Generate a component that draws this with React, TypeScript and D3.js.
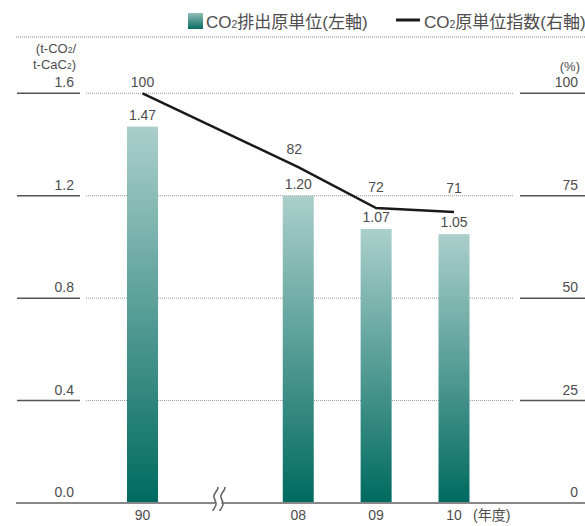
import { useRef, useEffect } from 'react';
import * as d3 from 'd3';

// 年度, CO2排出原単位 (t-CO2/t-CaC2), 原単位指数 (%)
const years = ['90', '08', '09', '10'];
const slots = ['90', 'break', '08', '09', '10'];
const intensity = [1.47, 1.2, 1.07, 1.05];
const indexValues = [100, 82, 72, 71];
const leftTicks = [0, 0.4, 0.8, 1.2, 1.6];
const rightTicks = [0, 25, 50, 75, 100];

const FONT = '"Liberation Sans", "Noto Sans CJK JP", sans-serif';
const TEXT = '#4d4d4d';

export default function App() {
  const ref = useRef<SVGSVGElement | null>(null);

  useEffect(() => {
    if (!ref.current) return;
    const width = 585;
    const height = 526;
    const svg = d3.select(ref.current)
      .attr('width', width)
      .attr('height', height)
      .style('font-family', FONT);

    svg.selectAll('*').remove();

    const baseY = 503;
    const topY = 93.3;
    const yL = d3.scaleLinear().domain([0, 1.6]).range([baseY, topY]);
    const yR = d3.scaleLinear().domain([0, 100]).range([baseY, topY]);
    const x = d3.scalePoint().domain(slots).range([142.5, 454]);
    const barW = 31;

    const defs = svg.append('defs');
    const grad = defs.append('linearGradient')
      .attr('id', 'barGrad')
      .attr('x1', 0).attr('y1', 0).attr('x2', 0).attr('y2', 1);
    grad.append('stop').attr('offset', '0%').attr('stop-color', '#abcfcb');
    grad.append('stop').attr('offset', '100%').attr('stop-color', '#006a60');

    const legGrad = defs.append('linearGradient')
      .attr('id', 'legGrad')
      .attr('x1', 0).attr('y1', 0).attr('x2', 0).attr('y2', 1);
    legGrad.append('stop').attr('offset', '0%').attr('stop-color', '#8fbdb7');
    legGrad.append('stop').attr('offset', '100%').attr('stop-color', '#0b6c63');

    // top dotted rule
    svg.append('line')
      .attr('x1', 16).attr('x2', width).attr('y1', 37).attr('y2', 37)
      .attr('stroke', '#888').attr('stroke-width', 1).attr('stroke-dasharray', '1,1');

    // legend
    const leg = svg.append('g').attr('font-size', 17).attr('fill', TEXT);
    leg.append('rect')
      .attr('x', 188).attr('y', 13).attr('width', 15).attr('height', 16)
      .attr('fill', 'url(#legGrad)');
    const t1 = leg.append('text').attr('x', 206).attr('y', 28);
    t1.append('tspan').text('CO');
    t1.append('tspan').attr('font-size', 10.5).text('2');
    t1.append('tspan').text('排出原単位(左軸)');
    leg.append('line')
      .attr('x1', 396).attr('x2', 420).attr('y1', 20).attr('y2', 20)
      .attr('stroke', '#1a1a1a').attr('stroke-width', 3);
    const t2 = leg.append('text').attr('x', 424).attr('y', 28);
    t2.append('tspan').text('CO');
    t2.append('tspan').attr('font-size', 10.5).text('2');
    t2.append('tspan').text('原単位指数(右軸)');

    // unit labels
    const unitL = svg.append('text')
      .attr('text-anchor', 'end').attr('font-size', 13).attr('fill', TEXT);
    const u1 = unitL.append('tspan').attr('x', 76).attr('y', 53);
    u1.append('tspan').text('(t-CO');
    u1.append('tspan').attr('font-size', 8.5).text('2');
    u1.append('tspan').text('/');
    const u2 = unitL.append('tspan').attr('x', 76).attr('y', 69);
    u2.append('tspan').text('t-CaC');
    u2.append('tspan').attr('font-size', 8.5).text('2');
    u2.append('tspan').text(')');
    svg.append('text')
      .attr('x', 580).attr('y', 71).attr('text-anchor', 'end')
      .attr('font-size', 13).attr('fill', TEXT).text('(%)');

    // grid lines & tick stubs (non-zero)
    const grid = svg.append('g');
    leftTicks.filter(d => d > 0).forEach(d => {
      const yy = yL(d);
      grid.append('line')
        .attr('x1', 17).attr('x2', 80).attr('y1', yy).attr('y2', yy)
        .attr('stroke', '#555').attr('stroke-width', 1.5);
      grid.append('line')
        .attr('x1', 86).attr('x2', 513).attr('y1', yy).attr('y2', yy)
        .attr('stroke', '#999').attr('stroke-width', 1).attr('stroke-dasharray', '1,1');
      grid.append('line')
        .attr('x1', 520).attr('x2', width).attr('y1', yy).attr('y2', yy)
        .attr('stroke', '#555').attr('stroke-width', 1.5);
    });

    // tick labels
    svg.append('g').selectAll('text')
      .data(leftTicks)
      .join('text')
      .attr('x', 74).attr('y', d => yL(d) - 6)
      .attr('text-anchor', 'end').attr('font-size', 14).attr('fill', TEXT)
      .text(d => d3.format('.1f')(d));
    svg.append('g').selectAll('text')
      .data(rightTicks)
      .join('text')
      .attr('x', 578).attr('y', d => yR(d) - 6)
      .attr('text-anchor', 'end').attr('font-size', 14).attr('fill', TEXT)
      .text(d => d);

    // bars
    svg.append('g').selectAll('rect')
      .data(intensity)
      .join('rect')
      .attr('x', (d, i) => (x(years[i]) as number) - barW / 2)
      .attr('y', d => yL(d))
      .attr('width', barW)
      .attr('height', d => baseY - yL(d))
      .attr('fill', 'url(#barGrad)');

    svg.append('g').selectAll('text')
      .data(intensity)
      .join('text')
      .attr('x', (d, i) => x(years[i]) as number)
      .attr('y', d => yL(d) - 7)
      .attr('text-anchor', 'middle').attr('font-size', 14).attr('fill', TEXT)
      .text(d => d3.format('.2f')(d));

    // baseline axis
    svg.append('line')
      .attr('x1', 16).attr('x2', width).attr('y1', baseY).attr('y2', baseY)
      .attr('stroke', '#888').attr('stroke-width', 2);

    // axis break mark
    const bx = x('break') as number - 2;
    const wave = d3.line().curve(d3.curveBasis);
    const wavePts = [[3, -16], [3, -13], [-3, -7], [3, 1], [-2, 7], [-2, 8]];
    const brk = svg.append('g').attr('transform', `translate(${bx},${baseY})`);
    brk.append('rect').attr('x', -3).attr('y', -3).attr('width', 6).attr('height', 6).attr('fill', '#fff');
    [-3.5, 3.5].forEach(off => {
      brk.append('path')
        .attr('d', wave(wavePts.map(p => [p[0] + off, p[1]]) as [number, number][]))
        .attr('fill', 'none').attr('stroke', '#666').attr('stroke-width', 1.6);
    });

    // index line
    const line = d3.line<number>()
      .x((d, i) => x(years[i]) as number)
      .y(d => yR(d));
    svg.append('path')
      .datum(indexValues)
      .attr('d', line)
      .attr('fill', 'none').attr('stroke', '#1a1a1a').attr('stroke-width', 2.5);

    const labelDy = [-6, -13, -16, -19];
    svg.append('g').selectAll('text')
      .data(indexValues)
      .join('text')
      .attr('x', (d, i) => (x(years[i]) as number) - (i === 1 ? 4 : 0))
      .attr('y', (d, i) => yR(d) + labelDy[i])
      .attr('text-anchor', 'middle').attr('font-size', 14).attr('fill', TEXT)
      .text(d => d);

    // x labels
    svg.append('g').selectAll('text')
      .data(years)
      .join('text')
      .attr('x', d => x(d) as number)
      .attr('y', 520)
      .attr('text-anchor', 'middle').attr('font-size', 14).attr('fill', TEXT)
      .text(d => d);
    svg.append('text')
      .attr('x', 473).attr('y', 520)
      .attr('font-size', 14).attr('fill', TEXT)
      .text('(年度)');
  }, []);

  return <svg ref={ref} style={{ position: 'absolute', left: 0, top: 0, background: '#fff' }}></svg>;
}
